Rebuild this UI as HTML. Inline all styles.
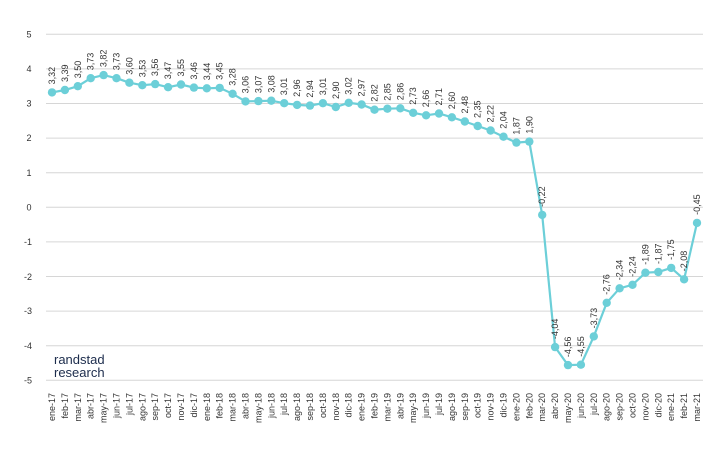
<!DOCTYPE html>
<html><head><meta charset="utf-8"><style>
html,body{margin:0;padding:0;background:#fff;}
svg{display:block;font-family:"Liberation Sans",sans-serif;}
.v{font-size:9px;fill:#333;}
.m{font-size:9px;fill:#333;text-anchor:end;}
.a{font-size:9px;fill:#333;text-anchor:middle;}
</style></head><body>
<svg width="721" height="454" viewBox="0 0 721 454">
<g stroke="#d6d6d6" stroke-width="1">
<line x1="46" x2="703" y1="34.3" y2="34.3"/><line x1="46" x2="703" y1="68.9" y2="68.9"/><line x1="46" x2="703" y1="103.5" y2="103.5"/><line x1="46" x2="703" y1="138.1" y2="138.1"/><line x1="46" x2="703" y1="172.7" y2="172.7"/><line x1="46" x2="703" y1="207.3" y2="207.3"/><line x1="46" x2="703" y1="241.9" y2="241.9"/><line x1="46" x2="703" y1="276.5" y2="276.5"/><line x1="46" x2="703" y1="311.1" y2="311.1"/><line x1="46" x2="703" y1="345.7" y2="345.7"/><line x1="46" x2="703" y1="380.3" y2="380.3"/>
</g>
<g>
<text class="a" x="29" y="37.5">5</text><text class="a" x="29" y="72">4</text><text class="a" x="29" y="106.5">3</text><text class="a" x="29" y="141">2</text><text class="a" x="29" y="176">1</text><text class="a" x="29" y="210.5">0</text><text class="a" x="28" y="245">-1</text><text class="a" x="28" y="280">-2</text><text class="a" x="28" y="314">-3</text><text class="a" x="28" y="349">-4</text><text class="a" x="28" y="383.5">-5</text>
</g>
<text x="54" y="364" font-size="13" fill="#1c2c4c">randstad</text>
<text x="54" y="377" font-size="13" fill="#1c2c4c">research</text>
<polyline fill="none" stroke="#6ccfd8" stroke-width="2.2" points="52,92.4 64.9,90 77.8,86.2 90.7,78.2 103.6,75.1 116.5,78.2 129.4,82.7 142.3,85.2 155.2,84.1 168.1,87.2 181,84.5 193.9,87.6 206.8,88.3 219.7,87.9 232.6,93.8 245.5,101.4 258.4,101.1 271.3,100.7 284.2,103.2 297.1,104.9 310,105.6 322.9,103.2 335.8,107 348.7,102.8 361.6,104.5 374.5,109.7 387.4,108.7 400.3,108.3 413.2,112.8 426.1,115.3 439,113.5 451.9,117.3 464.8,121.5 477.7,126 490.6,130.5 503.5,136.7 516.4,142.6 529.3,141.6 542.2,214.9 555.1,347.1 568,365.1 580.9,364.7 593.8,336.4 606.7,302.8 619.6,288.3 632.5,284.8 645.4,272.7 658.3,272 671.2,267.9 684.1,279.3 697,222.9"/>
<g fill="#6ccfd8">
<circle cx="52" cy="92.4" r="4.2"/><circle cx="64.9" cy="90" r="4.2"/><circle cx="77.8" cy="86.2" r="4.2"/><circle cx="90.7" cy="78.2" r="4.2"/><circle cx="103.6" cy="75.1" r="4.2"/><circle cx="116.5" cy="78.2" r="4.2"/><circle cx="129.4" cy="82.7" r="4.2"/><circle cx="142.3" cy="85.2" r="4.2"/><circle cx="155.2" cy="84.1" r="4.2"/><circle cx="168.1" cy="87.2" r="4.2"/><circle cx="181" cy="84.5" r="4.2"/><circle cx="193.9" cy="87.6" r="4.2"/><circle cx="206.8" cy="88.3" r="4.2"/><circle cx="219.7" cy="87.9" r="4.2"/><circle cx="232.6" cy="93.8" r="4.2"/><circle cx="245.5" cy="101.4" r="4.2"/><circle cx="258.4" cy="101.1" r="4.2"/><circle cx="271.3" cy="100.7" r="4.2"/><circle cx="284.2" cy="103.2" r="4.2"/><circle cx="297.1" cy="104.9" r="4.2"/><circle cx="310" cy="105.6" r="4.2"/><circle cx="322.9" cy="103.2" r="4.2"/><circle cx="335.8" cy="107" r="4.2"/><circle cx="348.7" cy="102.8" r="4.2"/><circle cx="361.6" cy="104.5" r="4.2"/><circle cx="374.5" cy="109.7" r="4.2"/><circle cx="387.4" cy="108.7" r="4.2"/><circle cx="400.3" cy="108.3" r="4.2"/><circle cx="413.2" cy="112.8" r="4.2"/><circle cx="426.1" cy="115.3" r="4.2"/><circle cx="439" cy="113.5" r="4.2"/><circle cx="451.9" cy="117.3" r="4.2"/><circle cx="464.8" cy="121.5" r="4.2"/><circle cx="477.7" cy="126" r="4.2"/><circle cx="490.6" cy="130.5" r="4.2"/><circle cx="503.5" cy="136.7" r="4.2"/><circle cx="516.4" cy="142.6" r="4.2"/><circle cx="529.3" cy="141.6" r="4.2"/><circle cx="542.2" cy="214.9" r="4.2"/><circle cx="555.1" cy="347.1" r="4.2"/><circle cx="568" cy="365.1" r="4.2"/><circle cx="580.9" cy="364.7" r="4.2"/><circle cx="593.8" cy="336.4" r="4.2"/><circle cx="606.7" cy="302.8" r="4.2"/><circle cx="619.6" cy="288.3" r="4.2"/><circle cx="632.5" cy="284.8" r="4.2"/><circle cx="645.4" cy="272.7" r="4.2"/><circle cx="658.3" cy="272" r="4.2"/><circle cx="671.2" cy="267.9" r="4.2"/><circle cx="684.1" cy="279.3" r="4.2"/><circle cx="697" cy="222.9" r="4.2"/>
</g>
<g class="v" transform="translate(-4,0)">
<text transform="translate(59,84.4) rotate(-90)">3,32</text>
<text transform="translate(71.9,82) rotate(-90)">3,39</text>
<text transform="translate(84.8,78.2) rotate(-90)">3,50</text>
<text transform="translate(97.7,70.2) rotate(-90)">3,73</text>
<text transform="translate(110.6,67.1) rotate(-90)">3,82</text>
<text transform="translate(123.5,70.2) rotate(-90)">3,73</text>
<text transform="translate(136.4,74.7) rotate(-90)">3,60</text>
<text transform="translate(149.3,77.2) rotate(-90)">3,53</text>
<text transform="translate(162.2,76.1) rotate(-90)">3,56</text>
<text transform="translate(175.1,79.2) rotate(-90)">3,47</text>
<text transform="translate(188,76.5) rotate(-90)">3,55</text>
<text transform="translate(200.9,79.6) rotate(-90)">3,46</text>
<text transform="translate(213.8,80.3) rotate(-90)">3,44</text>
<text transform="translate(226.7,79.9) rotate(-90)">3,45</text>
<text transform="translate(239.6,85.8) rotate(-90)">3,28</text>
<text transform="translate(252.5,93.4) rotate(-90)">3,06</text>
<text transform="translate(265.4,93.1) rotate(-90)">3,07</text>
<text transform="translate(278.3,92.7) rotate(-90)">3,08</text>
<text transform="translate(291.2,95.2) rotate(-90)">3,01</text>
<text transform="translate(304.1,96.9) rotate(-90)">2,96</text>
<text transform="translate(317,97.6) rotate(-90)">2,94</text>
<text transform="translate(329.9,95.2) rotate(-90)">3,01</text>
<text transform="translate(342.8,99) rotate(-90)">2,90</text>
<text transform="translate(355.7,94.8) rotate(-90)">3,02</text>
<text transform="translate(368.6,96.5) rotate(-90)">2,97</text>
<text transform="translate(381.5,101.7) rotate(-90)">2,82</text>
<text transform="translate(394.4,100.7) rotate(-90)">2,85</text>
<text transform="translate(407.3,100.3) rotate(-90)">2,86</text>
<text transform="translate(420.2,104.8) rotate(-90)">2,73</text>
<text transform="translate(433.1,107.3) rotate(-90)">2,66</text>
<text transform="translate(446,105.5) rotate(-90)">2,71</text>
<text transform="translate(458.9,109.3) rotate(-90)">2,60</text>
<text transform="translate(471.8,113.5) rotate(-90)">2,48</text>
<text transform="translate(484.7,118) rotate(-90)">2,35</text>
<text transform="translate(497.6,122.5) rotate(-90)">2,22</text>
<text transform="translate(510.5,128.7) rotate(-90)">2,04</text>
<text transform="translate(523.4,134.6) rotate(-90)">1,87</text>
<text transform="translate(536.3,133.6) rotate(-90)">1,90</text>
<text transform="translate(549.2,206.9) rotate(-90)">-0,22</text>
<text transform="translate(562.1,339.1) rotate(-90)">-4,04</text>
<text transform="translate(575,357.1) rotate(-90)">-4,56</text>
<text transform="translate(587.9,356.7) rotate(-90)">-4,55</text>
<text transform="translate(600.8,328.4) rotate(-90)">-3,73</text>
<text transform="translate(613.7,294.8) rotate(-90)">-2,76</text>
<text transform="translate(626.6,280.3) rotate(-90)">-2,34</text>
<text transform="translate(639.5,276.8) rotate(-90)">-2,24</text>
<text transform="translate(652.4,264.7) rotate(-90)">-1,89</text>
<text transform="translate(665.3,264) rotate(-90)">-1,87</text>
<text transform="translate(678.2,259.9) rotate(-90)">-1,75</text>
<text transform="translate(691.1,271.3) rotate(-90)">-2,08</text>
<text transform="translate(704,214.9) rotate(-90)">-0,45</text>
</g>
<g class="m">
<text transform="translate(55,393) rotate(-90)">ene-17</text>
<text transform="translate(67.9,393) rotate(-90)">feb-17</text>
<text transform="translate(80.8,393) rotate(-90)">mar-17</text>
<text transform="translate(93.7,393) rotate(-90)">abr-17</text>
<text transform="translate(106.6,393) rotate(-90)">may-17</text>
<text transform="translate(119.5,393) rotate(-90)">jun-17</text>
<text transform="translate(132.4,393) rotate(-90)">jul-17</text>
<text transform="translate(145.3,393) rotate(-90)">ago-17</text>
<text transform="translate(158.2,393) rotate(-90)">sep-17</text>
<text transform="translate(171.1,393) rotate(-90)">oct-17</text>
<text transform="translate(184,393) rotate(-90)">nov-17</text>
<text transform="translate(196.9,393) rotate(-90)">dic-17</text>
<text transform="translate(209.8,393) rotate(-90)">ene-18</text>
<text transform="translate(222.7,393) rotate(-90)">feb-18</text>
<text transform="translate(235.6,393) rotate(-90)">mar-18</text>
<text transform="translate(248.5,393) rotate(-90)">abr-18</text>
<text transform="translate(261.4,393) rotate(-90)">may-18</text>
<text transform="translate(274.3,393) rotate(-90)">jun-18</text>
<text transform="translate(287.2,393) rotate(-90)">jul-18</text>
<text transform="translate(300.1,393) rotate(-90)">ago-18</text>
<text transform="translate(313,393) rotate(-90)">sep-18</text>
<text transform="translate(325.9,393) rotate(-90)">oct-18</text>
<text transform="translate(338.8,393) rotate(-90)">nov-18</text>
<text transform="translate(351.7,393) rotate(-90)">dic-18</text>
<text transform="translate(364.6,393) rotate(-90)">ene-19</text>
<text transform="translate(377.5,393) rotate(-90)">feb-19</text>
<text transform="translate(390.4,393) rotate(-90)">mar-19</text>
<text transform="translate(403.3,393) rotate(-90)">abr-19</text>
<text transform="translate(416.2,393) rotate(-90)">may-19</text>
<text transform="translate(429.1,393) rotate(-90)">jun-19</text>
<text transform="translate(442,393) rotate(-90)">jul-19</text>
<text transform="translate(454.9,393) rotate(-90)">ago-19</text>
<text transform="translate(467.8,393) rotate(-90)">sep-19</text>
<text transform="translate(480.7,393) rotate(-90)">oct-19</text>
<text transform="translate(493.6,393) rotate(-90)">nov-19</text>
<text transform="translate(506.5,393) rotate(-90)">dic-19</text>
<text transform="translate(519.4,393) rotate(-90)">ene-20</text>
<text transform="translate(532.3,393) rotate(-90)">feb-20</text>
<text transform="translate(545.2,393) rotate(-90)">mar-20</text>
<text transform="translate(558.1,393) rotate(-90)">abr-20</text>
<text transform="translate(571,393) rotate(-90)">may-20</text>
<text transform="translate(583.9,393) rotate(-90)">jun-20</text>
<text transform="translate(596.8,393) rotate(-90)">jul-20</text>
<text transform="translate(609.7,393) rotate(-90)">ago-20</text>
<text transform="translate(622.6,393) rotate(-90)">sep-20</text>
<text transform="translate(635.5,393) rotate(-90)">oct-20</text>
<text transform="translate(648.4,393) rotate(-90)">nov-20</text>
<text transform="translate(661.3,393) rotate(-90)">dic-20</text>
<text transform="translate(674.2,393) rotate(-90)">ene-21</text>
<text transform="translate(687.1,393) rotate(-90)">feb-21</text>
<text transform="translate(700,393) rotate(-90)">mar-21</text>
</g>
</svg>
</body></html>
